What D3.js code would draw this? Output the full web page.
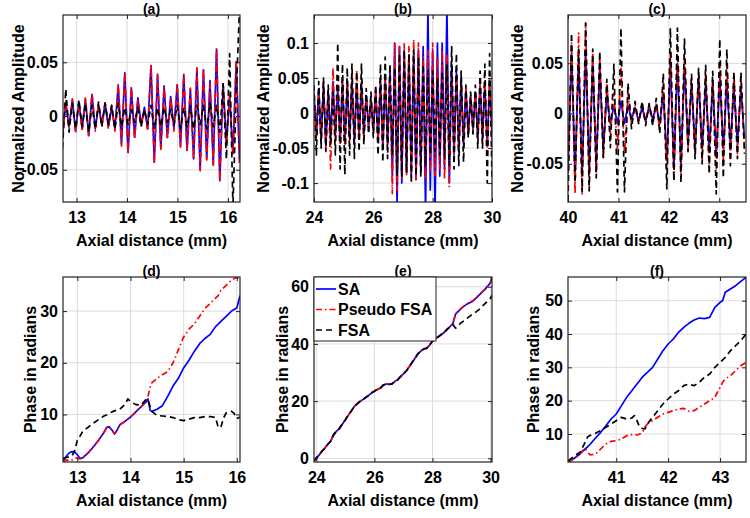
<!DOCTYPE html>
<html><head><meta charset="utf-8">
<script src="https://cdn.jsdelivr.net/npm/d3@7"></script>
<style>
body{margin:0;background:#fff}
text{font-family:"Liberation Sans",Arial,Helvetica,sans-serif;font-weight:bold;fill:#000}
</style></head><body>
<svg id="chart" width="750" height="518"></svg>
<script>
// ---------------- DATA ----------------
const seriesNames = ['SA', 'Pseudo FSA', 'FSA'];
const panelTitles = ['(a)', '(b)', '(c)', '(d)', '(e)', '(f)'];
const xLabel = 'Axial distance (mm)';
const yLabelTop = 'Normalized Amplitude';
const yLabelBottom = 'Phase in radians';

// Row 1: RF signals, sampled at peaks/troughs (sample start and spacing in mm)
const aStart = 12.72, aStep = 0.065;
const aSA = [-.018,.012,-.010,.015,-.014,.013,-.012,.015,-.018,.020,-.012,.010,-.008,.012,-.010,.008,-.012,.028,-.026,.040,-.034,.026,-.020,.017,-.008,.008,-.012,.047,-.043,.038,-.030,.028,-.020,.018,-.012,.029,-.028,.038,-.032,.025,-.040,.044,-.050,.043,-.040,.033,-.045,.062,-.060,.030,-.025,.018,-.035,.050,-.040];
const aPFSA = [-.020,.014,-.012,.016,-.016,.012,-.014,.018,-.020,.022,-.014,.012,-.010,.013,-.012,.010,-.014,.030,-.028,.041,-.035,.027,-.021,.016,-.010,.006,-.014,.048,-.044,.039,-.031,.027,-.022,.017,-.014,.030,-.029,.039,-.033,.026,-.041,.045,-.051,.044,-.041,.030,-.046,.063,-.061,.031,-.027,.020,-.036,.052,-.045];
const aFSA = [-.030,.025,-.015,.012,-.012,.015,-.010,.012,-.015,.010,-.012,.013,-.010,.012,-.008,.010,-.012,.012,-.010,.008,-.008,.006,-.006,.008,-.010,.006,-.008,.010,-.012,.008,-.010,.008,-.006,.006,-.008,.010,-.012,.008,-.010,.008,-.012,.010,-.008,.010,-.012,.012,-.010,.010,-.015,.030,-.040,.058,-.085,.020,.100];

const bStart = 24.0, bStep = 0.08;
const bSA = [.025,-.030,.035,-.040,.040,-.045,.030,-.035,.045,-.030,.035,-.040,.045,-.040,.040,-.035,.045,-.040,.040,-.035,.040,-.030,.025,-.020,.020,-.025,.030,-.040,.045,-.050,.050,-.045,.060,-.090,.100,-.130,.095,-.100,.090,-.085,.080,-.090,.085,-.095,.090,-.085,.095,-.140,.150,-.110,.090,-.140,.100,-.090,.100,-.080,.150,-.100,.070,-.060,.060,-.055,.050,-.045,.035,-.030,.025,-.025,.030,-.035,.040,-.035,.040,-.045,.040,-.030];
const bPFSA = [.030,-.035,.030,-.035,.045,-.050,.030,-.080,.065,-.040,.040,-.045,.050,-.050,.045,-.040,.055,-.045,.060,-.040,.045,-.035,.025,-.025,.020,-.025,.035,-.040,.045,-.050,.050,-.045,.055,-.115,.100,-.110,.095,-.095,.100,-.090,.095,-.085,.105,-.095,.100,-.080,.080,-.095,.090,-.085,.100,-.090,.080,-.080,.090,-.095,.085,-.105,.060,-.060,.055,-.050,.045,-.040,.035,-.030,.025,-.025,.030,-.035,.040,-.040,.045,-.050,.050,-.040];
const bFSA = [.040,-.060,.045,-.050,.050,-.055,.040,-.045,.030,-.060,.100,-.080,.070,-.088,.065,-.060,.070,-.065,.060,-.055,.070,-.045,.035,-.030,.030,-.035,.040,-.060,.070,-.070,.080,-.065,.070,-.060,.065,-.090,.085,-.090,.090,-.085,.085,-.100,.090,-.090,.080,-.090,.070,-.075,.060,-.060,.060,-.055,.050,-.060,.060,-.065,.070,-.075,.095,-.080,.085,-.075,.060,-.070,.040,-.035,.030,-.030,.040,-.050,.060,-.050,.070,-.100,.085,-.095];

const cStart = 40.0, cStep = 0.07;
const cSA = [-.055,.060,-.060,.055,-.060,.060,-.055,.050,-.050,.045,-.035,.020,-.010,.008,-.010,.012,-.010,.008,-.006,.006,-.008,.006,-.008,.008,-.006,.008,-.010,.020,-.045,.050,-.055,.050,-.050,.045,-.030,.030,-.035,.035,-.035,.030,-.035,.030,-.040,.035,-.035,.030,-.030,.025,-.030,.025,-.025];
const cPFSA = [-.060,.070,-.080,.080,-.080,.090,-.070,.060,-.060,.055,-.045,.030,-.020,.020,-.035,.045,-.040,.020,-.010,.008,-.008,.010,-.008,.008,-.010,.010,-.015,.030,-.055,.060,-.065,.062,-.060,.055,-.035,.035,-.040,.040,-.045,.040,-.050,.035,-.055,.050,-.050,.050,-.045,.040,-.040,.035,-.035];
const cFSA = [-.087,.080,-.069,.064,-.078,.090,-.077,.064,-.064,.062,-.044,.034,-.034,.049,-.078,.085,-.078,.030,-.015,.012,-.010,.012,-.012,.010,-.012,.015,-.020,.040,-.075,.085,-.067,.085,-.069,.074,-.038,.039,-.045,.045,-.050,.048,-.060,.042,-.080,.074,-.064,.064,-.052,.041,-.045,.041,-.040];

// Row 2: unwrapped phase (radians)
const dX = [12.73,12.8,12.85,12.9,12.95,13.0,13.05,13.1,13.2,13.3,13.4,13.5,13.55,13.6,13.65,13.7,13.75,13.8,13.9,13.95,14.0,14.1,14.2,14.3,14.33,14.37,14.4,14.5,14.6,14.7,14.8,14.9,15.0,15.1,15.2,15.3,15.4,15.5,15.6,15.65,15.7,15.75,15.8,15.9,15.95,16.0,16.06];
const dSA = [1.0,2.0,2.6,2.8,2.7,2.2,1.5,1.6,2.5,3.7,5.0,6.5,7.5,7.6,7.0,6.2,7.0,8.0,8.7,9.1,9.5,10.5,11.5,12.5,13.0,10.8,10.6,11.0,11.7,13.5,15.5,17.0,19.0,20.5,22.2,23.7,24.7,25.5,27.0,27.5,28.0,28.5,29.0,30.0,30.3,30.6,33.0];
const dPFSA = [0.9,1.2,1.0,1.2,1.5,1.6,1.4,1.6,2.6,3.8,5.0,6.5,7.4,7.5,7.0,6.3,7.0,8.0,8.7,9.1,9.5,10.5,11.5,12.6,13.5,15.3,16.1,17.0,17.7,18.3,20.0,22.5,25.0,26.5,27.5,29.0,30.5,31.5,32.5,33.0,34.0,34.5,35.0,36.0,36.3,36.5,36.0];
const dFSA = [1.5,1.7,1.8,2.0,3.0,5.0,5.8,6.7,7.5,8.3,9.0,9.7,9.9,10.2,10.5,10.7,10.9,11.0,12.0,13.0,12.5,11.9,11.8,13.0,12.8,11.5,10.6,9.8,9.7,9.6,9.4,9.0,8.8,9.1,9.4,9.4,9.6,9.6,9.4,7.5,7.5,9.3,10.3,10.6,10.2,9.2,9.5];

const eX = [23.92,24.0,24.1,24.2,24.3,24.4,24.5,24.6,24.7,24.8,24.9,25.0,25.1,25.2,25.3,25.4,25.5,25.6,25.7,25.8,25.9,26.0,26.1,26.2,26.3,26.4,26.5,26.6,26.7,26.8,26.9,27.0,27.1,27.2,27.3,27.4,27.5,27.6,27.7,27.8,27.9,28.0,28.1,28.2,28.3,28.4,28.5,28.6,28.7,28.8,28.9,29.0,29.1,29.2,29.3,29.4,29.5,29.6,29.7,29.8,29.9,30.0,30.05];
const eSA = [-1.0,0.0,1.2,2.5,3.6,5.0,6.0,8.5,9.5,10.5,12.0,13.5,15.0,16.5,18.0,19.0,19.8,20.5,21.2,22.0,22.8,23.5,24.0,24.5,25.5,26.0,25.8,26.0,26.8,27.5,28.5,29.5,30.5,32.0,33.5,35.0,36.5,37.5,38.2,38.5,39.5,41.0,41.8,42.5,43.2,44.0,45.0,46.0,47.0,50.5,51.5,52.5,53.3,54.0,54.5,55.0,56.0,57.0,58.0,59.0,60.2,61.5,63.0];
const ePFSA = [-1.0,0.1,1.3,2.4,3.7,5.1,6.2,8.4,9.6,10.6,12.1,13.6,15.1,16.6,18.1,19.1,19.9,20.6,21.3,22.1,22.9,23.6,24.1,24.6,25.6,26.1,25.9,26.1,26.9,27.6,28.6,29.6,30.6,32.1,33.6,35.1,36.6,37.6,38.3,38.6,39.6,41.1,41.9,42.6,43.3,44.1,45.1,46.1,47.2,50.6,51.6,52.6,53.4,54.1,54.6,55.2,56.1,57.1,58.1,59.1,60.3,61.6,62.5];
const eFSA = [-0.8,0.2,1.1,2.6,3.5,4.9,6.1,8.3,9.4,10.4,12.1,13.4,15.1,16.4,18.1,18.9,19.9,20.4,21.3,21.9,22.9,23.4,24.1,24.4,25.6,25.9,25.9,25.9,26.9,27.4,28.6,29.4,30.6,31.9,33.6,34.9,36.6,37.4,38.3,38.4,39.6,40.9,41.9,42.4,43.3,43.9,45.1,45.9,46.8,45.5,46.5,47.5,48.2,49.0,49.8,50.5,51.2,52.0,53.0,54.0,55.0,56.0,57.0];

const fX = [40.07,40.12,40.2,40.3,40.35,40.4,40.45,40.5,40.6,40.7,40.8,40.9,41.0,41.1,41.2,41.3,41.35,41.4,41.45,41.5,41.55,41.6,41.7,41.8,41.9,42.0,42.1,42.2,42.3,42.4,42.5,42.6,42.7,42.8,42.9,43.0,43.05,43.1,43.2,43.3,43.4,43.5];
const fSA = [1.8,2.0,2.8,4.0,4.8,5.5,6.2,7.0,8.8,10.5,12.5,14.5,16.0,18.5,21.0,23.0,24.0,25.0,26.0,27.0,27.8,28.5,30.0,32.5,35.0,37.0,38.5,40.5,42.0,43.2,44.2,44.8,44.6,45.0,48.0,49.5,50.0,52.5,53.5,54.5,55.8,57.0];
const fPFSA = [1.8,2.0,2.8,4.0,5.0,5.6,4.5,3.7,4.0,5.5,7.0,7.8,8.0,8.5,9.5,9.8,9.9,9.7,10.0,10.3,12.0,13.0,14.0,15.0,16.0,16.5,17.0,17.5,17.7,16.8,17.0,18.0,19.0,20.0,21.0,24.0,25.5,26.5,27.5,29.0,30.5,31.5];
const fFSA = [2.0,2.5,3.5,4.5,6.0,7.5,9.2,9.6,10.2,11.0,12.0,13.0,14.0,15.0,14.5,14.8,15.5,14.0,12.0,11.7,11.5,13.0,15.0,17.0,19.0,20.5,22.0,23.0,24.5,25.0,24.5,25.5,27.0,28.0,30.0,31.5,32.2,33.0,35.0,36.5,38.0,40.0];

// Axis limits and ticks
const aXLim = [12.73, 16.24], aYLim = [-0.080, 0.094];
const bXLim = [24, 30],       bYLim = [-0.127, 0.140];
const cXLim = [40, 43.53],    cYLim = [-0.088, 0.098];
const dXLim = [12.73, 16.06], dYLim = [0.8, 36.6];
const eXLim = [23.92, 30.05], eYLim = [-1.3, 63.4];
const fXLim = [40.07, 43.5],  fYLim = [1.6, 57.1];

const aXTicks = [13, 14, 15, 16], aYTicks = [-0.05, 0, 0.05];
const bXTicks = [24, 26, 28, 30], bYTicks = [-0.1, -0.05, 0, 0.05, 0.1];
const cXTicks = [40, 41, 42, 43], cYTicks = [-0.05, 0, 0.05];
const dXTicks = [13, 14, 15, 16], dYTicks = [10, 20, 30];
const eXTicks = [24, 26, 28, 30], eYTicks = [0, 20, 40, 60];
const fXTicks = [41, 42, 43],     fYTicks = [10, 20, 30, 40, 50];

// ---------------- DRAWING ----------------
const seriesColors = ['#0000ff', '#ff0000', '#000000'];
const seriesDash = [null, '6,3,1.5,3', '6,4'];

const cols = [[63, 240], [314, 492], [568, 746]];
const rows = [[15, 202], [277, 462]];

function grid(start, step, vals) { return vals.map((v, i) => [start + i * step, v]); }
function pairs(xs, ys) { return xs.map((x, i) => [x, ys[i]]); }
function yFmt(d) { return d === 0 ? '0' : String(d); }

const panels = [
  {t:0, c:0, r:0, xl:aXLim, yl:aYLim, xt:aXTicks, yt:aYTicks, yLab:yLabelTop, yOff:-44.5,
   s:[grid(aStart,aStep,aSA), grid(aStart,aStep,aPFSA), grid(aStart,aStep,aFSA)]},
  {t:1, c:1, r:0, xl:bXLim, yl:bYLim, xt:bXTicks, yt:bYTicks, yLab:yLabelTop, yOff:-51,
   s:[grid(bStart,bStep,bSA), grid(bStart,bStep,bPFSA), grid(bStart,bStep,bFSA)]},
  {t:2, c:2, r:0, xl:cXLim, yl:cYLim, xt:cXTicks, yt:cYTicks, yLab:yLabelTop, yOff:-50.5,
   s:[grid(cStart,cStep,cSA), grid(cStart,cStep,cPFSA), grid(cStart,cStep,cFSA)]},
  {t:3, c:0, r:1, xl:dXLim, yl:dYLim, xt:dXTicks, yt:dYTicks, yLab:yLabelBottom, yOff:-33,
   s:[pairs(dX,dSA), pairs(dX,dPFSA), pairs(dX,dFSA)]},
  {t:4, c:1, r:1, xl:eXLim, yl:eYLim, xt:eXTicks, yt:eYTicks, yLab:yLabelBottom, yOff:-32, legend:true,
   s:[pairs(eX,eSA), pairs(eX,ePFSA), pairs(eX,eFSA)]},
  {t:5, c:2, r:1, xl:fXLim, yl:fYLim, xt:fXTicks, yt:fYTicks, yLab:yLabelBottom, yOff:-35,
   s:[pairs(fX,fSA), pairs(fX,fPFSA), pairs(fX,fFSA)]}
];

const svg = d3.select('#chart');
svg.append('rect').attr('width', 750).attr('height', 518).attr('fill', '#fff');
const defs = svg.append('defs');

panels.forEach((p, pi) => {
  const [x0, x1] = cols[p.c], [y0, y1] = rows[p.r];
  const w = x1 - x0, h = y1 - y0;
  const xs = d3.scaleLinear().domain(p.xl).range([0, w]);
  const ys = d3.scaleLinear().domain(p.yl).range([h, 0]);
  const g = svg.append('g').attr('transform', `translate(${x0},${y0})`);

  defs.append('clipPath').attr('id', 'clip' + pi)
    .append('rect').attr('width', w).attr('height', h);

  // grid
  const gg = g.append('g').attr('stroke', '#dcdcdc').attr('stroke-width', 1);
  gg.selectAll('line.vx').data(p.xt).join('line')
    .attr('x1', d => xs(d)).attr('x2', d => xs(d)).attr('y1', 0).attr('y2', h);
  gg.selectAll('line.hy').data(p.yt).join('line')
    .attr('x1', 0).attr('x2', w).attr('y1', d => ys(d)).attr('y2', d => ys(d));

  // series
  const line = d3.line().x(d => xs(d[0])).y(d => ys(d[1]));
  const lg = g.append('g').attr('clip-path', `url(#clip${pi})`);
  p.s.forEach((data, si) => {
    lg.append('path').datum(data).attr('d', line)
      .attr('fill', 'none')
      .attr('stroke', seriesColors[si])
      .attr('stroke-width', 1.7)
      .attr('stroke-linejoin', 'round')
      .attr('stroke-dasharray', seriesDash[si]);
  });

  // axes (inward ticks)
  const fs = '16px';
  const ax = g.append('g').attr('transform', `translate(0,${h})`)
    .call(d3.axisBottom(xs).tickValues(p.xt).tickSizeInner(-4).tickSizeOuter(0).tickPadding(10).tickFormat(d3.format('d')));
  const axT = g.append('g')
    .call(d3.axisTop(xs).tickValues(p.xt).tickSizeInner(-4).tickSizeOuter(0).tickFormat(''));
  const ay = g.append('g')
    .call(d3.axisLeft(ys).tickValues(p.yt).tickSizeInner(-4).tickSizeOuter(0).tickPadding(5).tickFormat(yFmt));
  const ayR = g.append('g').attr('transform', `translate(${w},0)`)
    .call(d3.axisRight(ys).tickValues(p.yt).tickSizeInner(-4).tickSizeOuter(0).tickFormat(''));
  [ax, axT, ay, ayR].forEach(a => {
    a.select('.domain').remove();
    a.selectAll('line').attr('stroke', '#222');
    a.selectAll('text').attr('font-size', fs).attr('font-family', '"Liberation Sans",Arial,sans-serif')
      .attr('font-weight', 'bold').attr('fill', '#000');
  });

  // box
  g.append('rect').attr('width', w).attr('height', h)
    .attr('fill', 'none').attr('stroke', '#222').attr('stroke-width', 1.2);

  // title
  g.append('text').attr('x', w / 2).attr('y', -1).attr('text-anchor', 'middle')
    .attr('font-size', 14).text(panelTitles[p.t]);
  // x label
  g.append('text').attr('x', w / 2).attr('y', h + 44).attr('text-anchor', 'middle')
    .attr('font-size', 16).text(xLabel);
  // y label
  g.append('text').attr('transform', `translate(${p.yOff},${h / 2}) rotate(-90)`)
    .attr('text-anchor', 'middle').attr('dy', '0.35em').attr('font-size', 16).text(p.yLab);

  if (p.legend) {
    const lgd = g.append('g');
    lgd.append('rect').attr('x', 0).attr('y', 0).attr('width', 122).attr('height', 64)
      .attr('fill', '#fff').attr('stroke', '#222').attr('stroke-width', 1);
    seriesNames.forEach((n, si) => {
      const yy = 12 + si * 20.5;
      lgd.append('line').attr('x1', 2).attr('x2', 22).attr('y1', yy).attr('y2', yy)
        .attr('stroke', seriesColors[si]).attr('stroke-width', 1.7)
        .attr('stroke-dasharray', seriesDash[si]);
      lgd.append('text').attr('x', 24).attr('y', yy).attr('dy', '0.36em')
        .attr('font-size', 16).text(n);
    });
  }
});
</script>
</body></html>
